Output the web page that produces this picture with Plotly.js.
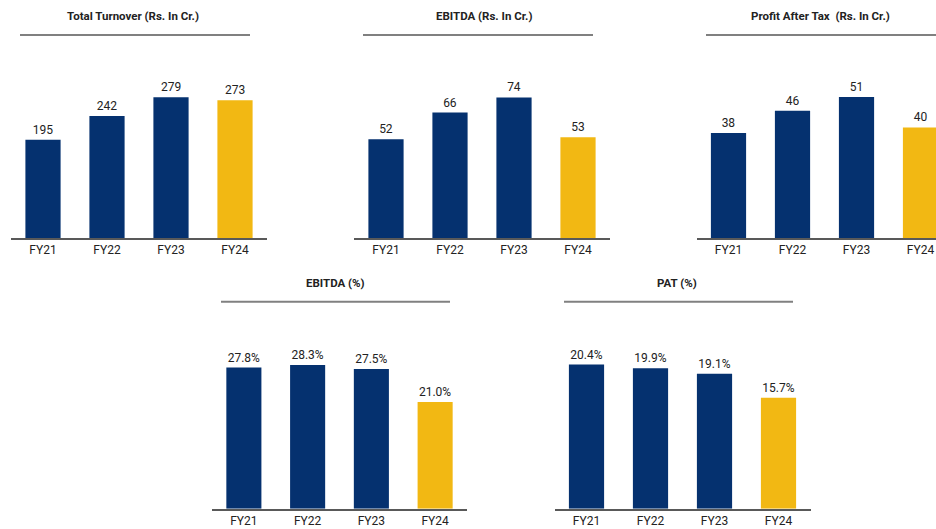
<!DOCTYPE html>
<html>
<head>
<meta charset="utf-8">
<script src="https://cdn.plot.ly/plotly-3.0.1.min.js"></script>
<style>html,body{margin:0;padding:0;background:#fff;}#chart{width:936px;height:529px;}</style>
</head>
<body>
<div id="chart"></div>
<script>
const categories = ["FY21", "FY22", "FY23", "FY24"];
const turnover = [195, 242, 279, 273];
const ebitda = [52, 66, 74, 53];
const pat = [38, 46, 51, 40];
const ebitdaPct = [27.8, 28.3, 27.5, 21.0];
const patPct = [20.4, 19.9, 19.1, 15.7];
const titles = ["Total Turnover (Rs. In Cr.)", "EBITDA (Rs. In Cr.)", "Profit After Tax  (Rs. In Cr.)", "EBITDA (%)", "PAT (%)"];

const NAVY = "#05316f", GOLD = "#f2b813";
const colors = categories.map((c, i) => i === categories.length - 1 ? GOLD : NAVY);
const W = 936, H = 529;
const FAMILY = "Roboto, Liberation Sans, sans-serif";
const labelFont = {family: FAMILY, size: 12, color: "#222"};

function bar(vals, axisIdx, fmt) {
  const s = axisIdx === 1 ? "" : String(axisIdx);
  return {
    type: "bar", x: categories, y: vals, xaxis: "x" + s, yaxis: "y" + s,
    marker: {color: colors, line: {width: 0}},
    text: vals.map(fmt), textposition: "outside", cliponaxis: false,
    textfont: labelFont, hoverinfo: "skip", showlegend: false
  };
}
const intFmt = v => String(v);
const pctFmt = v => v.toFixed(1) + "%";

const data = [
  bar(turnover, 1, intFmt),
  bar(ebitda, 2, intFmt),
  bar(pat, 3, intFmt),
  bar(ebitdaPct, 4, pctFmt),
  bar(patPct, 5, pctFmt)
];

// panel geometry in pixels
const panels = [
  {x0: 11, x1: 267, top: 60, base: 238, ymax: 353, xr: [-0.5, 3.5]},
  {x0: 354, x1: 610, top: 60, base: 238, ymax: 93.7, xr: [-0.5, 3.5]},
  {x0: 696.5, x1: 936, top: 60, base: 238, ymax: 64.4, xr: [-0.5, 3.242]},
  {x0: 212, x1: 467, top: 330, base: 508.7, ymax: 35.2, xr: [-0.5, 3.5]},
  {x0: 554.5, x1: 810.5, top: 330, base: 508.7, ymax: 25.3, xr: [-0.5, 3.5]}
];
const titlePos = [
  {cx: 133, ty: 16, lx0: 20, lx1: 250, ly: 35},
  {cx: 484, ty: 16, lx0: 363, lx1: 593, ly: 35},
  {cx: 820, ty: 16, lx0: 706, lx1: 936, ly: 35},
  {cx: 335, ty: 283, lx0: 221, lx1: 450, ly: 301.7},
  {cx: 677, ty: 283, lx0: 564, lx1: 793, ly: 301.7}
];

const layout = {
  width: W, height: H, margin: {l: 0, r: 0, t: 0, b: 0},
  paper_bgcolor: "#fff", plot_bgcolor: "rgba(0,0,0,0)",
  bargap: 0.45, showlegend: false,
  font: {family: FAMILY, color: "#222"},
  annotations: [], shapes: []
};
panels.forEach((p, i) => {
  const s = i === 0 ? "" : String(i + 1);
  layout["xaxis" + s] = {
    domain: [p.x0 / W, p.x1 / W], anchor: "y" + s, type: "category",
    range: p.xr, showgrid: false, zeroline: false, showline: true,
    linecolor: "#595959", linewidth: 2, ticks: "", ticklabelstandoff: 0,
    tickfont: {family: FAMILY, size: 12, color: "#222"}, fixedrange: true
  };
  layout["yaxis" + s] = {
    domain: [1 - p.base / H, 1 - p.top / H], anchor: "x" + s,
    range: [0, p.ymax], visible: false, showgrid: false, zeroline: false, fixedrange: true
  };
  const t = titlePos[i];
  layout.annotations.push({
    xref: "paper", yref: "paper", x: t.cx / W, y: 1 - t.ty / H,
    xanchor: "center", yanchor: "middle", showarrow: false,
    text: "<b>" + titles[i] + "</b>",
    font: {family: FAMILY, size: 11.5, color: "#222"}
  });
  layout.shapes.push({
    type: "line", xref: "paper", yref: "paper",
    x0: t.lx0 / W, x1: t.lx1 / W, y0: 1 - t.ly / H, y1: 1 - t.ly / H,
    line: {color: "#808080", width: 2}
  });
});

Plotly.newPlot("chart", data, layout, {staticPlot: true, displayModeBar: false});
</script>
</body>
</html>
